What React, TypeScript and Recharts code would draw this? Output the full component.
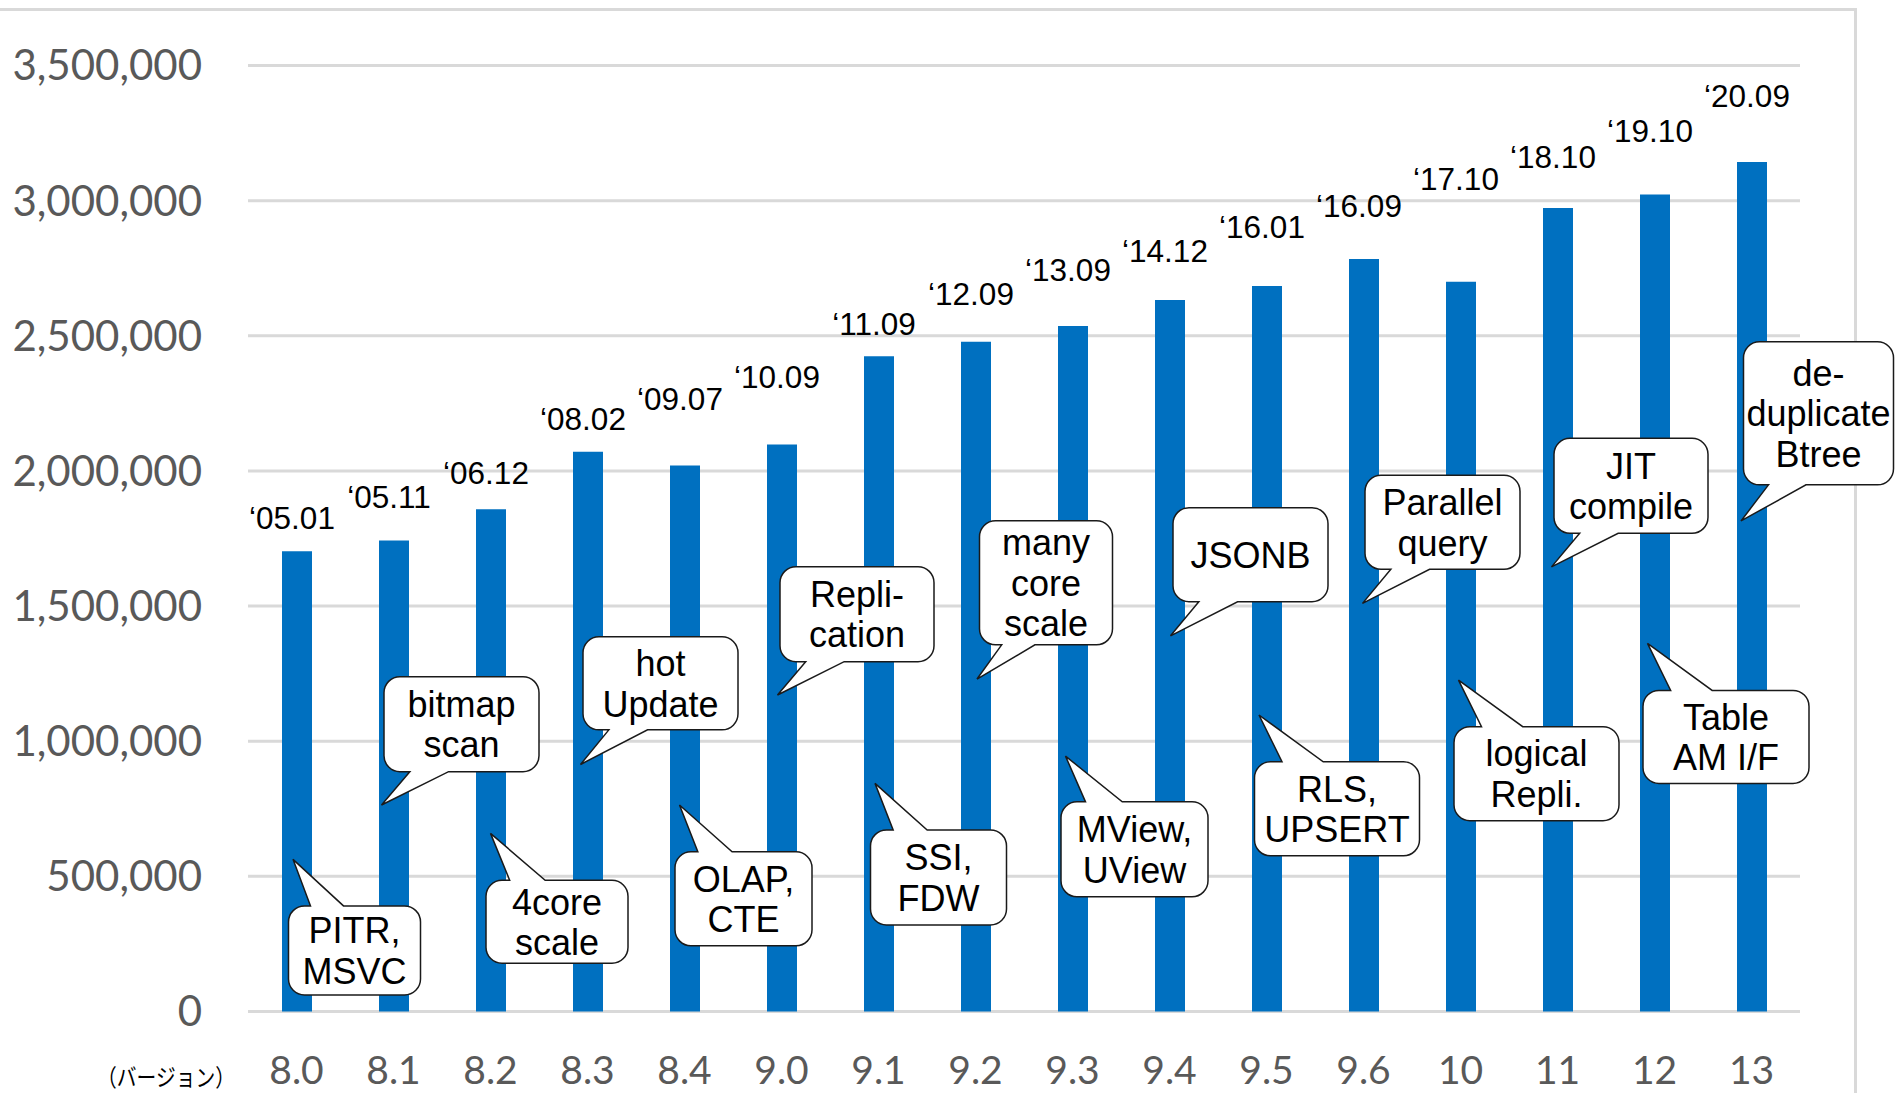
import React from "react";
import { ComposedChart, Bar, XAxis, YAxis, CartesianGrid } from "recharts";

// PostgreSQL versions and their throughput
const versions = ["8.0", "8.1", "8.2", "8.3", "8.4", "9.0", "9.1", "9.2", "9.3", "9.4", "9.5", "9.6", "10", "11", "12", "13"];
const tps = [1703000, 1743000, 1858000, 2071000, 2020000, 2098000, 2424000, 2478000, 2536000, 2632000, 2684000, 2784000, 2700000, 2973000, 3023000, 3143000];
const releaseDates = ["‘05.01", "‘05.11", "‘06.12", "‘08.02", "‘09.07", "‘10.09", "‘11.09", "‘12.09", "‘13.09", "‘14.12", "‘16.01", "‘16.09", "‘17.10", "‘18.10", "‘19.10", "‘20.09"];
// level (in y units) where each release date sits
const dateLevels = [1824000, 1904000, 1994000, 2191000, 2266000, 2347000, 2543000, 2655000, 2745000, 2812000, 2901000, 2982000, 3080000, 3160000, 3259000, 3388000];

// feature balloons
const calloutTexts = [
  ["PITR,", "MSVC"],
  ["bitmap", "scan"],
  ["4core", "scale"],
  ["hot", "Update"],
  ["OLAP,", "CTE"],
  ["Repli-", "cation"],
  ["SSI,", "FDW"],
  ["many", "core", "scale"],
  ["MView,", "UView"],
  ["JSONB"],
  ["RLS,", "UPSERT"],
  ["Parallel", "query"],
  ["logical", "Repli."],
  ["JIT", "compile"],
  ["Table", "AM I/F"],
  ["de-", "duplicate", "Btree"],
];
const calloutBoxLevels = [226000, 1063000, 332000, 1214000, 417000, 1470000, 496000, 1586000, 600000, 1690000, 750000, 1810000, 880000, 1945000, 1016000, 2213000];
const calloutTipLevels = [563000, 764000, 659000, 914000, 764000, 1171000, 844000, 1230000, 945000, 1390000, 1097000, 1510000, 1226000, 1645000, 1362000, 1815000];

const yTicks = [0, 500000, 1000000, 1500000, 2000000, 2500000, 3000000, 3500000];

// balloon box geometry in px: left edge relative to bar centre, width, height
const calloutLayout = [
  { dx: -8.5, w: 132, h: 89 },
  { dx: -10, w: 155, h: 95 },
  { dx: -5, w: 142, h: 83 },
  { dx: -5, w: 155, h: 93 },
  { dx: -10, w: 137, h: 94 },
  { dx: -2, w: 154, h: 95 },
  { dx: -8.5, w: 136, h: 95 },
  { dx: 3.5, w: 133, h: 124 },
  { dx: -12, w: 147, h: 95 },
  { dx: 3, w: 155, h: 94 },
  { dx: -12.5, w: 165, h: 94 },
  { dx: 1, w: 155, h: 94 },
  { dx: -7, w: 165, h: 94 },
  { dx: -4, w: 154, h: 95 },
  { dx: -12, w: 166, h: 93 },
  { dx: -8.5, w: 150, h: 143 },
];

const chartData = versions.map((v, i) => ({
  idx: i,
  version: v,
  tps: tps[i],
  date: releaseDates[i],
  dateLevel: dateLevels[i],
  lines: calloutTexts[i],
  boxLevel: calloutBoxLevels[i],
  tipLevel: calloutTipLevels[i],
}));

const ARIAL = "'Liberation Sans', Arial, sans-serif";
const TICK_FONT = "Lato, 'Open Sans', sans-serif";

function DateLabel(props: any) {
  const { x, y, width, payload } = props;
  return (
    <text x={x + width / 2 - 5} y={y + 11} textAnchor="middle" fontFamily={ARIAL} fontSize={31.5} fill="#000">
      {payload.date}
    </text>
  );
}

function Balloon(props: any) {
  const { x, y, width, height, payload } = props;
  const top = Math.min(y, y + height);
  const bottom = Math.max(y, y + height);
  const tipAbove = payload.tipLevel > payload.boxLevel;
  const tipY = tipAbove ? top : bottom;
  const cy = tipAbove ? bottom : top;
  const { dx, w, h } = calloutLayout[payload.idx];
  const left = x + width / 2 + dx;
  const right = left + w;
  const t = cy - h / 2;
  const b = cy + h / 2;
  const tipX = left + (tipAbove ? 4.5 : -2.5);
  const b1 = left + w / 6;
  const b2 = left + (w * 5) / 12;
  const r = 16;

  let d = `M ${left + r} ${t}`;
  if (tipAbove) d += ` L ${b1} ${t} L ${tipX} ${tipY} L ${b2} ${t}`;
  d += ` L ${right - r} ${t} A ${r} ${r} 0 0 1 ${right} ${t + r}`;
  d += ` L ${right} ${b - r} A ${r} ${r} 0 0 1 ${right - r} ${b}`;
  if (!tipAbove) d += ` L ${b2} ${b} L ${tipX} ${tipY} L ${b1} ${b}`;
  d += ` L ${left + r} ${b} A ${r} ${r} 0 0 1 ${left} ${b - r}`;
  d += ` L ${left} ${t + r} A ${r} ${r} 0 0 1 ${left + r} ${t} Z`;

  const lines: string[] = payload.lines;
  const n = lines.length;
  return (
    <g>
      <path d={d} fill="#fff" stroke="#1a1a1a" strokeWidth={1.5} />
      {lines.map((ln, i) => (
        <text
          key={i}
          x={left + w / 2}
          y={cy + (i - (n - 1) / 2) * 40.5 + 13}
          textAnchor="middle"
          fontFamily={ARIAL}
          fontSize={36}
          fill="#000"
        >
          {ln}
        </text>
      ))}
    </g>
  );
}

export default function App() {
  return (
    <div style={{ position: "absolute", left: 0, top: 0, width: 1895, height: 1093, overflow: "hidden", background: "#fff" }}>
      <div
        style={{
          position: "absolute",
          left: -10,
          top: 7.5,
          width: 1866.5,
          height: 1200,
          boxSizing: "border-box",
          border: "3px solid #d9d9d9",
        }}
      />
      <div style={{ position: "absolute", left: 0, top: 0 }}>
        <ComposedChart width={1895} height={1093} data={chartData} margin={{ top: 65.5, right: 95, bottom: 1.5, left: 0 }}>
          <CartesianGrid vertical={false} stroke="#d9d9d9" strokeWidth={3} />
          <XAxis
            dataKey="version"
            interval={0}
            height={80}
            axisLine={false}
            tickLine={false}
            tickSize={0}
            tickMargin={45}
            tick={{ fill: "#595959", fontSize: 39, fontFamily: TICK_FONT }}
          />
          <XAxis xAxisId="dates" dataKey="version" hide />
          <XAxis xAxisId="notes" dataKey="version" hide />
          <YAxis
            domain={[0, 3500000]}
            ticks={yTicks}
            interval={0}
            width={248}
            axisLine={false}
            tickLine={false}
            tickSize={0}
            tickMargin={46}
            tick={{ fill: "#595959", fontSize: 42, fontFamily: TICK_FONT }}
            tickFormatter={(v: number) => v.toLocaleString("en-US")}
          />
          <Bar dataKey="tps" fill="#0070C0" barSize={30} isAnimationActive={false} />
          <Bar
            xAxisId="dates"
            dataKey="dateLevel"
            barSize={30}
            fill="none"
            shape={DateLabel}
            activeBar={false}
            isAnimationActive={false}
          />
          <Bar
            xAxisId="notes"
            dataKey={(d: any) => [Math.min(d.tipLevel, d.boxLevel), Math.max(d.tipLevel, d.boxLevel)]}
            barSize={30}
            fill="none"
            shape={Balloon}
            activeBar={false}
            isAnimationActive={false}
          />
        </ComposedChart>
      </div>
      <svg width={1895} height={1093} style={{ position: "absolute", left: 0, top: 0, pointerEvents: "none" }}>
        <text
          x={166}
          y={1086}
          textAnchor="middle"
          fontFamily="'Noto Sans CJK JP', sans-serif"
          fontSize={24}
          textLength={138}
          lengthAdjust="spacingAndGlyphs"
          fill="#000"
        >
          （バージョン）
        </text>
      </svg>
    </div>
  );
}
